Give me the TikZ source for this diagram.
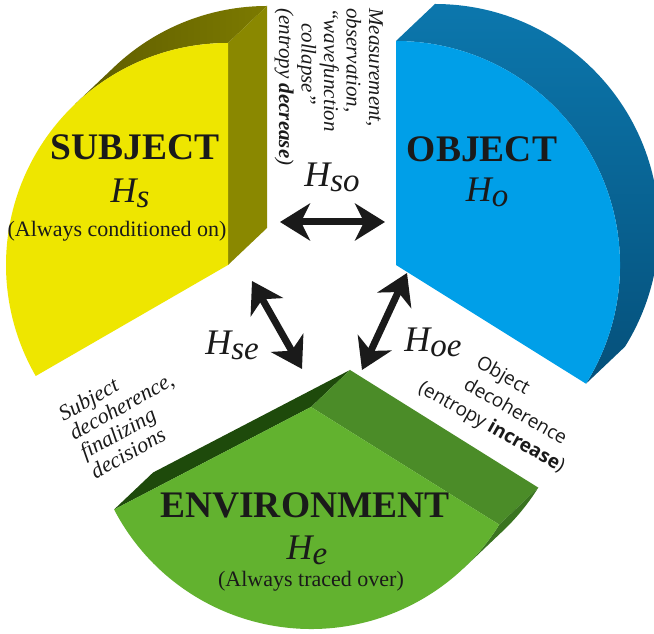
\documentclass[tikz,border=0pt]{standalone}
\usepackage{fontspec}
\setmainfont{Liberation Serif}
\newfontfamily\labsans{Open Sans}
\usetikzlibrary{arrows.meta,calc}
\definecolor{ink}{HTML}{1A1A1A}
\definecolor{yfront}{HTML}{EEE600}
\definecolor{yside}{HTML}{8A8800}
\definecolor{ybandA}{HTML}{5E5C00}
\definecolor{ybandB}{HTML}{7C7A00}
\definecolor{bfront}{HTML}{009FE8}
\definecolor{bbandA}{HTML}{0C77AD}
\definecolor{bbandB}{HTML}{05507A}
\definecolor{gfront}{HTML}{62B22F}
\definecolor{gleft}{HTML}{1E4A0B}
\definecolor{gright}{HTML}{4B8C28}
\definecolor{gband}{HTML}{3A7420}
\newcommand\Hsub[1]{\textit{H}\raisebox{-5pt}{\fontsize{33}{33}\selectfont\itshape #1}}
\begin{document}
\begin{tikzpicture}[x=1pt,y=1pt,
  title/.style={font=\fontsize{37.5}{40}\selectfont\bfseries, text=ink, inner sep=0pt, anchor=base},
  hlab/.style={font=\fontsize{36}{36}\selectfont\itshape, text=ink, inner sep=0pt, anchor=base},
  note/.style={font=\fontsize{22}{24}\selectfont, text=ink, inner sep=0pt, anchor=base},
  side/.style={text=ink, inner sep=0pt, align=left, anchor=north west},
  biarrow/.style={line width=7pt, draw=ink,
    {Stealth[length=30pt,width=37pt,inset=9pt]}-{Stealth[length=30pt,width=37pt,inset=9pt]}},
]
\useasboundingbox[fill=white] (0,0) rectangle (654,634);

\coordinate (S) at (228,369);
\coordinate (O) at (396,369);
\coordinate (E) at (311,227);

% SUBJECT wedge
\shade[left color=ybandA, right color=ybandB]
  ($(S)+(90:222)$) arc[start angle=90,end angle=133.5,radius=222] -- ++(39,37)
  arc[start angle=133.5,end angle=90,radius=222] -- cycle;
\fill[yside] (S) -- ++(0,222) -- ++(39,37) -- ++(0,-222) -- cycle;
\fill[yfront] (S) -- ++(90:222) arc[start angle=90,end angle=210,radius=222] -- cycle;

% OBJECT wedge
\shade[top color=bbandA, bottom color=bbandB]
  ($(O)+(-32:224)$) arc[start angle=-32,end angle=90,radius=224] -- ++(39,37)
  arc[start angle=90,end angle=-32,radius=224] -- cycle;
\fill[bfront] (O) -- ++(-32:224) arc[start angle=-32,end angle=90,radius=224] -- cycle;

% ENVIRONMENT wedge
\fill[gleft] (E) -- ++(207.5:222) -- ++(39,37) -- ($(E)+(39,37)$) -- cycle;
\fill[gright] (E) -- ++(328:222) -- ++(39,37) -- ($(E)+(39,37)$) -- cycle;
\fill[gband] ($(E)+(313.5:222)$) arc[start angle=313.5,end angle=328,radius=222] -- ++(39,37)
  arc[start angle=328,end angle=313.5,radius=222] -- cycle;
\fill[gfront] (E) -- ++(207.5:222) arc[start angle=207.5,end angle=328,radius=222] -- cycle;

% wedge texts
\node[title] (subjT) at (135,474) {SUBJECT};
\node[hlab] (subjH) at (130,431) {\Hsub{s}};
\node[note] (subjN) at (117,397) {(Always conditioned on)};
\node[title] (objT) at (482,472) {OBJECT};
\node[hlab] (objH) at (487,432) {\Hsub{o}};
\node[title] (envT) at (305,116) {ENVIRONMENT};
\node[hlab] (envH) at (307,74) {\Hsub{e}};
\node[note] (envN) at (311,47) {(Always traced over)};

% side texts
\node[side, font=\fontsize{21}{22.5}\selectfont\itshape, rotate=-90] (meas) at (383,626)
  {Measurement,\\observation,\\``wavefunction\\\hspace*{15pt}collapse''\\(entropy \textbf{decrease})};
\node[side, font=\fontsize{22}{22}\selectfont\itshape, rotate=29] (subdec) at (56,226)
  {Subject\\decoherence,\\finalizing\\decisions};
\node[side, font=\labsans\fontsize{19}{25}\selectfont, rotate=-29.5] (objdec) at (449,299)
  {\hspace*{38pt}Object\\\hspace*{38pt}decoherence\\(entropy \textbf{increase})};

% arrows
\coordinate (so1) at (280,412); \coordinate (so2) at (385,412);
\coordinate (se1) at (252,353); \coordinate (se2) at (302,265);
\coordinate (oe1) at (407,361); \coordinate (oe2) at (362,264);
\draw[biarrow] (so1) -- (so2);
\draw[biarrow] (se1) -- (se2);
\draw[biarrow] (oe1) -- (oe2);
\node[hlab] (soL) at (332,447) {\Hsub{so}};
\node[hlab] (seL) at (232,279) {\Hsub{se}};
\node[hlab] (oeL) at (433,282) {\Hsub{oe}};
\end{tikzpicture}
\end{document}
